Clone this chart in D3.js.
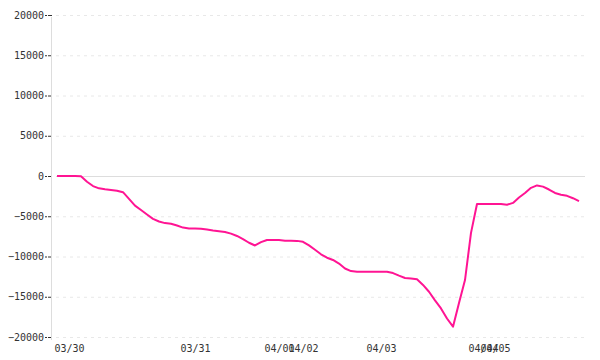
<!DOCTYPE html>
<html>
<head>
<meta charset="utf-8">
<script src="https://cdn.jsdelivr.net/npm/d3@7"></script>
<style>
    body { margin: 0; background: #fff; }
    #chart { width: 600px; height: 360px; }
    .axis text { font-family: "DejaVu Sans Mono", monospace; font-size: 10px; fill: #333; }
</style>
</head>
<body>
<div id="chart"></div>
<script>

// series values, one per sample
const values = [
    0, 0, 0, 0, -40, -710, -1250, -1530, -1650, -1730,
    -1840, -2010, -2840, -3680, -4220, -4780, -5320, -5650, -5850, -5930,
    -6150, -6410, -6510, -6520, -6550, -6660, -6780, -6870, -6960, -7160,
    -7450, -7840, -8290, -8630, -8220, -7950, -7950, -7950, -8040, -8050,
    -8060, -8170, -8620, -9160, -9730, -10150, -10430, -10880, -11490, -11810,
    -11890, -11890, -11890, -11890, -11890, -11900, -12060, -12380, -12670, -12730,
    -12830, -13530, -14380, -15450, -16450, -17700, -18720, -15790, -12920, -7070,
    -3480, -3480, -3480, -3480, -3480, -3570, -3340, -2680, -2110, -1470,
    -1170, -1320, -1680, -2110, -2320, -2460, -2760, -3110
];

// first sample of each day, and its label
const tickIndex = [2, 23, 37, 41, 54, 71, 73];
const tickLabels = ["03/30", "03/31", "04/01", "04/02", "04/03", "04/04", "04/05"];

const yTicks = [20000, 15000, 10000, 5000, 0, -5000, -10000, -15000, -20000];

class LineVis {

    constructor(parentElement, data) {
        this.parentElement = parentElement;
        this.data = data;
        this.initVis();
    }

    initVis() {
        let vis = this;

        vis.margin = {top: 15, right: 15, bottom: 23, left: 52};
        vis.width = 600 - vis.margin.left - vis.margin.right;
        vis.height = 360 - vis.margin.top - vis.margin.bottom;

        vis.svg = d3.select("#" + vis.parentElement).append("svg")
            .attr("width", 600)
            .attr("height", 360)
            .append("g")
            .attr("transform", `translate(${vis.margin.left}, ${vis.margin.top})`);

        vis.x = d3.scaleLinear()
            .domain([0, vis.data.length - 1])
            .range([5, 527]);

        vis.y = d3.scaleLinear()
            .domain([-20000, 20000])
            .range([vis.height, 0]);

        // grid lines
        vis.svg.append("g").selectAll("line")
            .data(yTicks)
            .enter()
            .append("line")
            .attr("x1", 4)
            .attr("x2", vis.width)
            .attr("y1", d => vis.y(d) + 0.5)
            .attr("y2", d => vis.y(d) + 0.5)
            .attr("stroke", d => d === 0 ? "#dddddd" : "#e8e8e8")
            .attr("stroke-dasharray", d => d === 0 ? null : "3,4");

        // y axis
        vis.yAxis = d3.axisLeft(vis.y)
            .tickValues(yTicks)
            .tickSize(7)
            .tickPadding(1)
            .tickFormat(d3.format("d"));

        vis.yg = vis.svg.append("g")
            .attr("class", "axis y-axis")
            .call(vis.yAxis);
        vis.yg.select(".domain").remove();
        vis.yg.selectAll(".tick line")
            .attr("stroke", "#333")
            .attr("stroke-dasharray", "4,1");
        vis.yg.selectAll(".tick text").text(d => d < 0 ? "\u2212" + Math.abs(d) : d);

        vis.svg.append("line")
            .attr("x1", -0.5)
            .attr("x2", -0.5)
            .attr("y1", 2)
            .attr("y2", vis.height + 3)
            .attr("stroke", "#dddddd");

        // x axis
        vis.xAxis = d3.axisBottom(vis.x)
            .tickValues(tickIndex)
            .tickSize(0)
            .tickPadding(8)
            .tickFormat((d, i) => tickLabels[i]);

        vis.xg = vis.svg.append("g")
            .attr("class", "axis x-axis")
            .attr("transform", `translate(0, ${vis.height})`)
            .call(vis.xAxis);
        vis.xg.select(".domain").remove();

        vis.updateVis();
    }

    updateVis() {
        let vis = this;

        vis.line = d3.line()
            .x((d, i) => vis.x(i))
            .y(d => vis.y(d));

        vis.svg.append("path")
            .datum(vis.data)
            .attr("fill", "none")
            .attr("stroke", "#ff1493")
            .attr("stroke-width", 2)
            .attr("stroke-linejoin", "round")
            .attr("d", vis.line);
    }
}

new LineVis("chart", values);

</script>
</body>
</html>
